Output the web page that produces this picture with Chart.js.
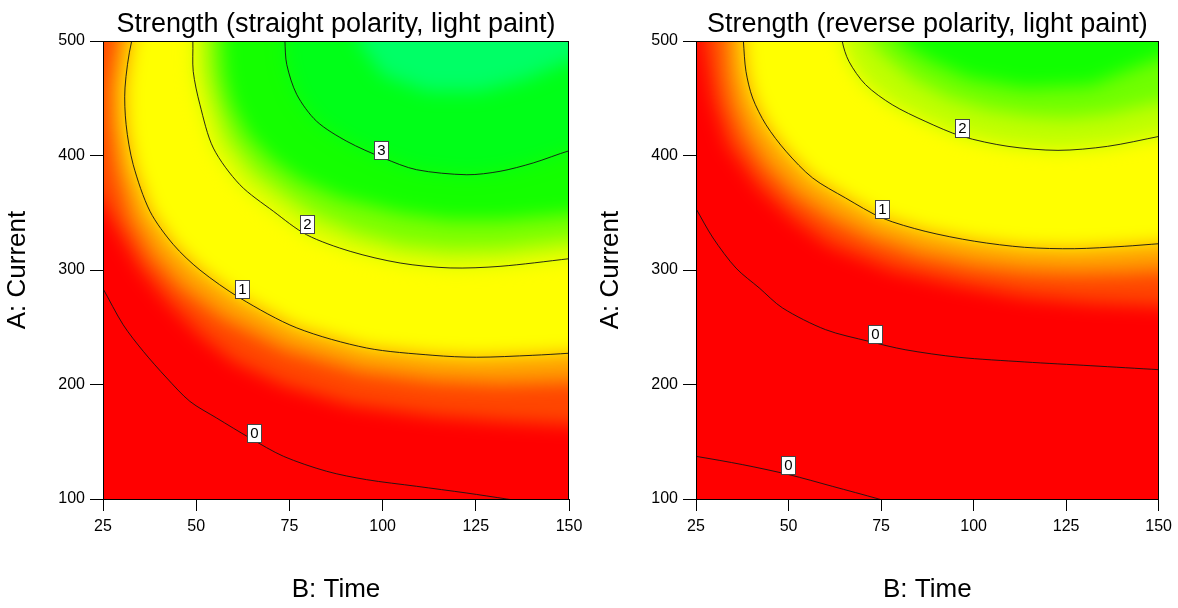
<!DOCTYPE html>
<html lang="en">
<head>
<meta charset="UTF-8">
<title>Strength contour plots</title>
<script src="https://cdn.jsdelivr.net/npm/chart.js"></script>
<style>
  html, body { margin: 0; padding: 0; background: #fff; }
  body { width: 1178px; height: 608px; position: relative; overflow: hidden; }
  .panel { position: absolute; top: 0; height: 608px; }
  #left { left: 0; width: 589px; }
  #right { left: 593px; width: 585px; }
</style>
</head>
<body>
<div class="panel" id="left"><canvas id="leftChart" width="589" height="608"></canvas></div>
<div class="panel" id="right"><canvas id="rightChart" width="585" height="608"></canvas></div>

<script>
  const FONT = '"Liberation Sans", Arial, sans-serif';
  const BLUR = 'blur(9px)';

  // axes
  const TIME_TICKS = [25, 50, 75, 100, 125, 150];
  const CURRENT_TICKS = [100, 200, 300, 400, 500];

  // contour lines, [time, current]; first/last points run just outside the frame
  const LEFT_C0 = [[15,340],[24.9,284.3],[30.4,252.2],[35.8,229],[42.1,205.7],[48.3,185.3],[55.5,170.7],[64.4,153.3],[73.4,137.3],[85,124.2],[95.7,116.9],[109.1,111.1],[122.6,105.2],[133.3,100],[155,89]];
  const LEFT_C1 = [[36,530],[32.7,500],[30.9,459],[31.2,426.9],[33.1,392],[37.6,351.3],[43.9,322.1],[51,300],[61.7,275.6],[77,249.4],[95.7,231.9],[113.5,225.5],[125.2,223.8],[140.3,225.5],[150,227.3],[160,229.5]];
  const LEFT_C2 = [[48.5,530],[49.1,500],[49.2,473.5],[51,444.4],[54.6,406.5],[61.7,374.5],[70.7,351.3],[79.6,330.8],[91.3,316.3],[104.7,306.1],[118.1,301.8],[131.5,303.2],[150.1,309.9],[160,314]];
  const LEFT_C3 = [[73.5,530],[73.8,500],[74.3,479.3],[77,453.1],[82.3,429.9],[90.4,412.4],[100.2,397.8],[109.1,387.6],[122.6,383.2],[131.5,386.2],[140.4,393.5],[150.1,404.2],[160,412]];

  const RIGHT_C0_LOW = [[15,142],[24.9,137.3],[37.6,130],[50.2,121.2],[61.8,111.1],[74.4,100],[85,90]];
  const RIGHT_C0 = [[15,410],[24.9,354.2],[29.6,328],[35.8,301.7],[42.1,284.3],[48.4,266.8],[60,247.9],[71.7,237.7],[81.5,230.4],[95.9,223.8],[113.8,219.7],[131.7,216.4],[150.3,212.9],[160,211]];
  const RIGHT_C1 = [[37.2,530],[37.8,500],[38.5,473.5],[40.3,450.2],[43.9,426.9],[49.3,403.7],[56.5,380.4],[65.4,362.9],[75.3,345.4],[86.9,333.8],[100.3,325.1],[113.8,319.8],[127.2,318.6],[140.7,320.7],[150.3,323],[160,325]];
  const RIGHT_C2 = [[63.5,530],[64.5,500],[66.3,482.3],[70.8,461.9],[78,444.4],[86.9,429.9],[96.8,416.8],[109.3,408],[122.8,404.5],[136.2,408],[150.3,416.8],[160,423]];

  // where the shading changes colour (no line drawn)
  const LEFT_RED_EDGE = [[15,395],[25,356.8],[34.9,301.7],[42.1,272.9],[51,243.5],[59.9,220.5],[73.3,199.8],[91.3,182.4],[113.5,172.5],[131.5,168.1],[150,164.9],[160,164]];
  const LEFT_ORANGE_EDGE = [[29.5,530],[28.5,500],[26.6,459],[26.9,425.8],[28.5,387.4],[32.2,345.4],[38.1,312.3],[45.7,285.2],[56.9,258.1],[73.8,230.1],[93.9,211.1],[113.5,203.1],[131.5,200.5],[150,202.2],[160,203]];
  const LEFT_LIME_EDGE = [[52.5,530],[52.9,500],[53.2,473.8],[55,448.5],[58.5,415.3],[65.2,386.5],[73.6,365.5],[82.1,347.2],[92.9,332.3],[105.2,321.8],[118.1,317.5],[131.5,318.3],[150,325.3],[160,329]];
  const LEFT_GREEN_EDGE = [[56.5,530],[56.9,500],[57.5,470.3],[59.6,444.1],[63.9,417.9],[70.3,396.1],[77.8,378.6],[88.6,362.9],[104.7,349.8],[118.1,343.7],[131.5,343.7],[150,348.9],[160,351]];
  const LEFT_MINT_EDGE = [[92,530],[93.5,500],[100,470],[112,456],[126,456],[138,466],[150,482],[160,490]];

  const RIGHT_RED_EDGE = [[26.5,530],[26.9,500],[29.6,448.5],[33.6,409.2],[42.2,371.6],[51.6,343.7],[61,321.8],[78,300],[96,286.9],[113.7,276.4],[131.7,271.2],[150.3,268.6],[160,268]];
  const RIGHT_ORANGE_EDGE = [[32.5,530],[32.8,500],[33.3,470.3],[34.9,444.1],[38.2,417.9],[43.5,391.7],[51.6,365.5],[61,345.4],[71.8,328],[85.2,313.1],[100,303.5],[113.7,298.3],[127.2,296.5],[140.6,297.4],[150.3,299.2],[160,300]];
  const RIGHT_LIME_EDGE = [[71,530],[71.8,500],[76.6,485.2],[83.9,465.9],[93.3,450.2],[104,439.7],[114.8,434.5],[125.5,432.7],[136.3,436.2],[150.3,446.7],[160,451]];
  const RIGHT_GREEN_EDGE = [[79,530],[79.8,500],[87.9,483.4],[98.7,467.7],[113.7,459],[131.7,461.6],[144.4,478],[150.3,485],[160,495]];

  // whole plot, and the corners used to close each region on its high side
  const BASE_AREA = [[0,50],[175,50],[175,560],[0,560]];
  const CLOSE = [[175,50],[175,560],[0,560]];

  // contour value boxes
  const LEFT_LABEL_TEXT = ['0', '1', '2', '3'];
  const LEFT_LABEL_X = [65.4, 62.4, 79.6, 99.7];
  const LEFT_LABEL_Y = [157.6, 283.0, 340.0, 405.2];
  const RIGHT_LABEL_TEXT = ['0', '0', '1', '2'];
  const RIGHT_LABEL_X = [49.9, 73.4, 75.3, 97.0];
  const RIGHT_LABEL_Y = [129.3, 243.8, 353.0, 424.3];

  const toXY = arr => arr.map(p => ({ x: p[0], y: p[1] }));

  function band(points, color, order) {
    return {
      data: toXY(points), fill: 'shape', backgroundColor: color,
      borderWidth: 0, borderColor: 'transparent', pointRadius: 0, tension: 0, order: order
    };
  }

  function contour(points) {
    return {
      data: toXY(points), fill: false, borderColor: 'rgba(20,20,20,0.9)', borderWidth: 1,
      pointRadius: 0, tension: 0.3, capBezierPoints: false, clip: 0, order: 1
    };
  }

  // fills are drawn by the filler before everything else; blur only them
  const blurBands = {
    id: 'blurBands',
    beforeRender(chart) { chart.ctx.filter = BLUR; },
    beforeDraw(chart) { chart.ctx.filter = 'none'; },
    afterDraw(chart) { chart.ctx.filter = BLUR; }
  };

  const contourLabels = {
    id: 'contourLabels',
    afterDatasetsDraw(chart, args, opts) {
      const { ctx, chartArea: a } = chart;
      const sx = chart.scales.x, sy = chart.scales.y;
      ctx.save();
      ctx.filter = 'none';
      ctx.font = '15px ' + FONT;
      ctx.textAlign = 'center';
      ctx.textBaseline = 'middle';
      opts.text.forEach((t, i) => {
        const px = Math.round(sx.getPixelForValue(opts.xs[i]));
        const py = Math.round(sy.getPixelForValue(opts.ys[i]));
        const w = 14, h = 18;
        ctx.fillStyle = '#fff';
        ctx.fillRect(px - w / 2, py - h / 2, w, h);
        ctx.strokeStyle = '#444';
        ctx.lineWidth = 1;
        ctx.strokeRect(px - w / 2 + 0.5, py - h / 2 + 0.5, w, h);
        ctx.fillStyle = '#000';
        ctx.fillText(t, px + 0.5, py + 1);
      });
      // frame round the plot
      ctx.strokeStyle = '#000';
      ctx.lineWidth = 1;
      ctx.strokeRect(Math.round(a.left) + 0.5, Math.round(a.top) + 0.5,
        Math.round(a.right - a.left) - 1, Math.round(a.bottom - a.top));
      ctx.restore();
    }
  };

  function makeChart(id, title, datasets, labels, padRight) {
    return new Chart(document.getElementById(id), {
      type: 'line',
      data: { datasets: datasets },
      plugins: [blurBands, contourLabels],
      options: {
        responsive: false,
        animation: false,
        events: [],
        layout: { padding: { left: 0, right: padRight, top: 0, bottom: 0 } },
        plugins: {
          legend: { display: false },
          tooltip: { enabled: false },
          filler: { drawTime: 'beforeDraw' },
          title: {
            display: true, text: title, color: '#000', fullSize: false,
            font: { size: 27, family: FONT, weight: 'normal' },
            padding: { top: 8.4, bottom: 0.2 }
          },
          contourLabels: labels
        },
        scales: {
          x: {
            type: 'linear', min: 25, max: 150,
            afterBuildTicks: s => { s.ticks = TIME_TICKS.map(v => ({ value: v })); },
            afterFit: s => { s.height = 109; },
            ticks: { color: '#000', font: { size: 16, family: FONT }, padding: 6, maxRotation: 0, autoSkip: false },
            grid: { drawOnChartArea: false, drawTicks: true, tickLength: 12, color: '#000' },
            border: { display: true, color: '#000' },
            title: { display: true, text: 'B: Time', color: '#000', font: { size: 26, family: FONT }, padding: { top: 2.5, bottom: 2.5 } }
          },
          y: {
            type: 'linear', min: 100, max: 500,
            afterBuildTicks: s => { s.ticks = CURRENT_TICKS.map(v => ({ value: v })); },
            afterFit: s => { s.width = 103; },
            ticks: { color: '#000', font: { size: 16, family: FONT }, padding: 5, autoSkip: false },
            grid: { drawOnChartArea: false, drawTicks: true, tickLength: 13, color: '#000' },
            border: { display: true, color: '#000' },
            title: { display: true, text: 'A: Current', color: '#000', font: { size: 26, family: FONT }, padding: { top: 2, bottom: 2 } }
          }
        }
      }
    });
  }

  makeChart('leftChart', 'Strength (straight polarity, light paint)', [
    band(BASE_AREA, '#ff0000', 20),
    band(LEFT_RED_EDGE.concat(CLOSE), '#ff4600', 19),
    band(LEFT_ORANGE_EDGE.concat(CLOSE), '#ffa000', 18),
    band(LEFT_C1.concat(CLOSE), '#ffff00', 17),
    band(LEFT_C2.concat(CLOSE), '#d4ff00', 16),
    band(LEFT_LIME_EDGE.concat(CLOSE), '#7cff00', 15),
    band(LEFT_GREEN_EDGE.concat(CLOSE), '#14ff00', 14),
    band(LEFT_C3.concat(CLOSE), '#00ff18', 13),
    band(LEFT_MINT_EDGE.concat(CLOSE), '#00ff66', 12),
    contour(LEFT_C0), contour(LEFT_C1), contour(LEFT_C2), contour(LEFT_C3)
  ], { text: LEFT_LABEL_TEXT, xs: LEFT_LABEL_X, ys: LEFT_LABEL_Y }, 20);

  makeChart('rightChart', 'Strength (reverse polarity, light paint)', [
    band(BASE_AREA, '#ff0000', 20),
    band(RIGHT_RED_EDGE.concat(CLOSE), '#ff4600', 19),
    band(RIGHT_ORANGE_EDGE.concat(CLOSE), '#ffa000', 18),
    band(RIGHT_C1.concat(CLOSE), '#ffff00', 17),
    band(RIGHT_C2.concat(CLOSE), '#c0ff00', 16),
    band(RIGHT_LIME_EDGE.concat(CLOSE), '#70ff00', 15),
    band(RIGHT_GREEN_EDGE.concat(CLOSE), '#10ff00', 14),
    contour(RIGHT_C0_LOW), contour(RIGHT_C0), contour(RIGHT_C1), contour(RIGHT_C2)
  ], { text: RIGHT_LABEL_TEXT, xs: RIGHT_LABEL_X, ys: RIGHT_LABEL_Y }, 17);
</script>
</body>
</html>
